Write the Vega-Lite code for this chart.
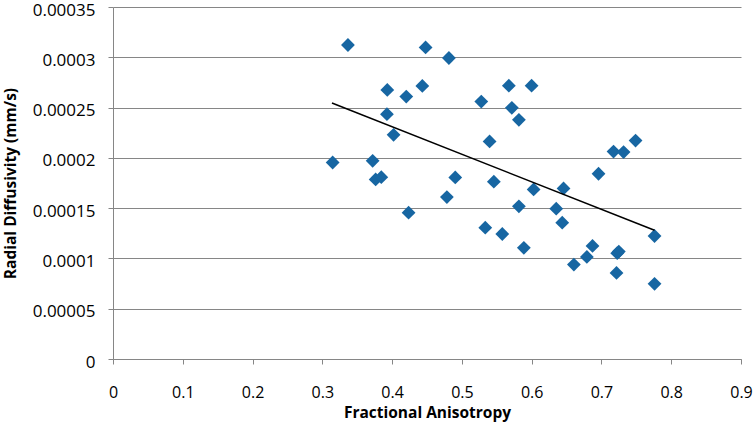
{
  "$schema": "https://vega.github.io/schema/vega-lite/v6.json",
  "width": 628,
  "height": 352,
  "autosize": {"type": "none"},
  "padding": {"left": 113, "top": 7, "right": 14, "bottom": 64},
  "background": "white",
  "config": {
    "view": {"stroke": null},
    "axis": {
      "labelFont": "Open Sans",
      "labelFontSize": 17,
      "labelColor": "#000000",
      "titleFont": "Open Sans",
      "titleFontSize": 15.5,
      "titleFontWeight": "bold",
      "titleColor": "#000000",
      "domainColor": "#868686",
      "tickColor": "#868686",
      "gridColor": "#868686",
      "tickSize": 5
    }
  },
  "datasets": {
    "points": [
      {"fa": 0.3148, "rd": 0.0001954},
      {"fa": 0.3367, "rd": 0.0003122},
      {"fa": 0.3721, "rd": 0.0001971},
      {"fa": 0.3764, "rd": 0.0001786},
      {"fa": 0.3845, "rd": 0.0001808},
      {"fa": 0.3931, "rd": 0.0002675},
      {"fa": 0.3926, "rd": 0.0002434},
      {"fa": 0.4021, "rd": 0.0002229},
      {"fa": 0.4203, "rd": 0.0002609},
      {"fa": 0.4236, "rd": 0.0001455},
      {"fa": 0.4433, "rd": 0.0002715},
      {"fa": 0.4480, "rd": 0.0003098},
      {"fa": 0.4785, "rd": 0.000161},
      {"fa": 0.4814, "rd": 0.0002993},
      {"fa": 0.4905, "rd": 0.0001805},
      {"fa": 0.5278, "rd": 0.000256},
      {"fa": 0.5335, "rd": 0.0001306},
      {"fa": 0.5397, "rd": 0.0002163},
      {"fa": 0.5458, "rd": 0.0001763},
      {"fa": 0.5579, "rd": 0.0001243},
      {"fa": 0.5673, "rd": 0.0002718},
      {"fa": 0.5716, "rd": 0.0002497},
      {"fa": 0.5817, "rd": 0.0002378},
      {"fa": 0.5817, "rd": 0.0001518},
      {"fa": 0.5888, "rd": 0.0001106},
      {"fa": 0.5999, "rd": 0.0002718},
      {"fa": 0.6028, "rd": 0.0001686},
      {"fa": 0.6352, "rd": 0.0001495},
      {"fa": 0.6438, "rd": 0.0001356},
      {"fa": 0.6457, "rd": 0.0001696},
      {"fa": 0.6605, "rd": 0.0000939},
      {"fa": 0.6791, "rd": 0.0001015},
      {"fa": 0.6872, "rd": 0.0001124},
      {"fa": 0.6958, "rd": 0.0001842},
      {"fa": 0.7173, "rd": 0.0002063},
      {"fa": 0.7226, "rd": 0.0001052},
      {"fa": 0.7249, "rd": 0.0001068},
      {"fa": 0.7216, "rd": 0.0000856},
      {"fa": 0.7317, "rd": 0.0002057},
      {"fa": 0.7489, "rd": 0.0002172},
      {"fa": 0.7761, "rd": 0.0001223},
      {"fa": 0.7761, "rd": 0.0000747}
    ],
    "trend": [
      {"fa": 0.3138, "rd": 0.0002546},
      {"fa": 0.776, "rd": 0.000128}
    ]
  },
  "layer": [
    {
      "data": {"name": "points"},
      "mark": {"type": "point", "shape": "diamond", "filled": true, "size": 190, "color": "#1766a2", "opacity": 1},
      "encoding": {
        "x": {
          "field": "fa", "type": "quantitative",
          "scale": {"domain": [0, 0.9], "nice": false, "zero": false},
          "axis": {
            "title": "Fractional Anisotropy",
            "values": [0, 0.1, 0.2, 0.3, 0.4, 0.5, 0.6, 0.7, 0.8, 0.9],
            "labelExpr": "datum.value == 0 ? '0' : format(datum.value, '.1~f')",
            "labelFontSize": 16,
            "grid": false,
            "labelPadding": 20,
            "titlePadding": 5,
            "labelFlush": false
          }
        },
        "y": {
          "field": "rd", "type": "quantitative",
          "scale": {"domain": [0, 0.00035], "nice": false},
          "axis": {
            "title": "Radial Diffusivity (mm/s)",
            "values": [0, 0.00005, 0.0001, 0.00015, 0.0002, 0.00025, 0.0003, 0.00035],
            "labelExpr": "datum.value == 0 ? '0' : format(datum.value, '.5~f')",
            "grid": true,
            "labelPadding": 13,
            "labelOffset": 3,
            "titlePadding": 14,
            "labelFlush": false
          }
        }
      }
    },
    {
      "data": {"name": "trend"},
      "mark": {"type": "line", "color": "#000000", "strokeWidth": 1.5},
      "encoding": {
        "x": {"field": "fa", "type": "quantitative"},
        "y": {"field": "rd", "type": "quantitative"}
      }
    }
  ]
}
